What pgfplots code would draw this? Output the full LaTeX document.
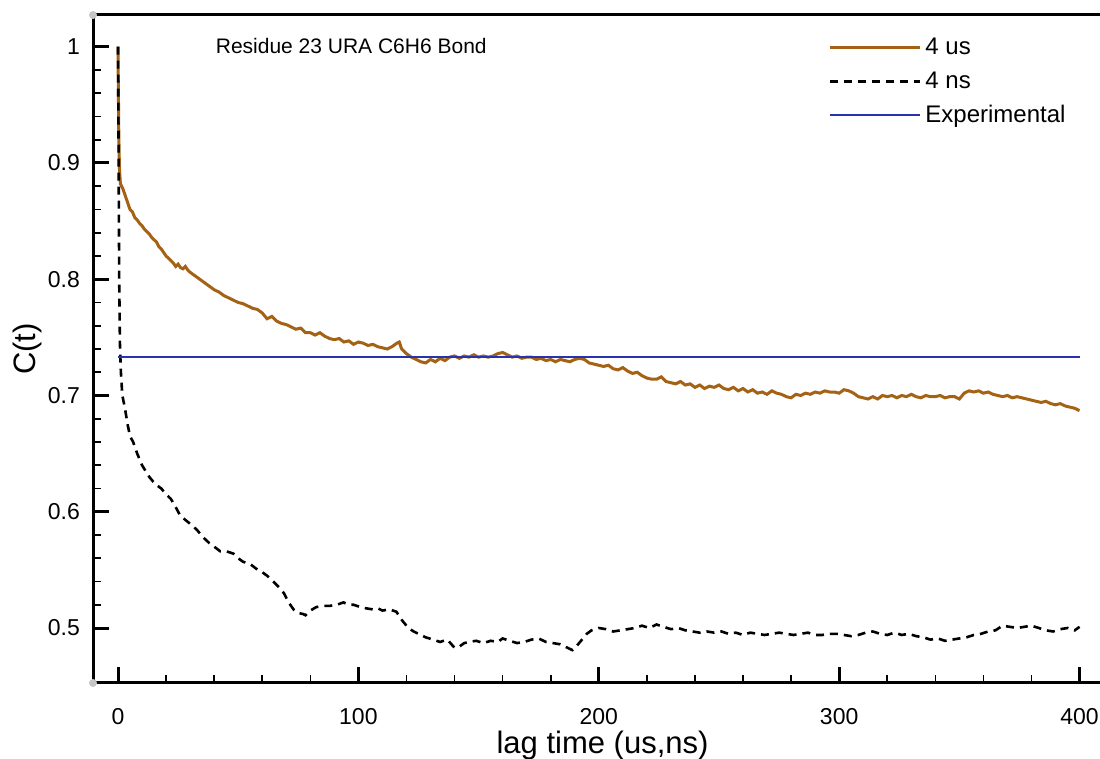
\documentclass[border=0pt]{standalone}
\usepackage{pgfplots}
\pgfplotsset{compat=1.18}
\usepackage{fontspec}
\setmainfont{Liberation Sans}
\definecolor{usbrown}{RGB}{163,98,20}
\definecolor{expblue}{RGB}{40,50,175}
\begin{document}
\begin{tikzpicture}
\path[use as bounding box] (0pt,0pt) rectangle (550pt,379.5pt);
\begin{axis}[
    at={(46.5pt,38pt)}, anchor=south west,
    scale only axis,
    width=503.5pt, height=334pt,
    xmin=-10.4, xmax=408.5,
    ymin=0.4527, ymax=1.0273,
    xtick={0,100,200,300,400},
    ytick={0.5,0.6,0.7,0.8,0.9,1},
    minor tick num=4,
    xtick pos=bottom, ytick pos=left,
    tick align=inside,
    major tick length=8pt, minor tick length=4pt,
    major tick style={line width=1.5pt, black},
    minor tick style={line width=0.8pt, black},
    axis line style={draw=none},
    clip mode=individual,
    /pgf/number format/assume math mode=true,
    yticklabel style={/pgf/number format/fixed, /pgf/number format/precision=1, font=\fontsize{11.5}{13}\selectfont, xshift=-3pt},
    xticklabel style={font=\fontsize{11.5}{13}\selectfont, yshift=-9pt},
    xlabel={lag time (us,ns)},
    ylabel={C(t)},
    xlabel style={font=\fontsize{15.5}{18}\selectfont, at={(axis description cs:0.506,-0.093)}, anchor=center},
    ylabel style={font=\fontsize{15.5}{18}\selectfont, yshift=-4pt},
    legend style={draw=none, fill=none, at={(0.724,0.978)}, anchor=north west,
        font=\fontsize{12}{14}\selectfont, row sep=3pt},
    legend cell align=left,
    legend image code/.code={\draw[#1] (0pt,0pt) -- (45pt,0pt);},
]
\addplot[usbrown, line width=1.5pt] coordinates {
(0,1.000) (0.3,0.93) (0.6,0.895) (1,0.882) (2,0.878) (3,0.872) (4,0.866) (5,0.860)
(6,0.858) (7,0.853) (8,0.851) (9,0.848) (10,0.846) (11,0.843) (12,0.841) (13,0.839)
(14,0.836) (15,0.834) (16,0.832) (17,0.828) (18,0.826) (19,0.823) (20,0.820) (21,0.818)
(22,0.816) (23,0.814) (24,0.811) (25,0.813) (26,0.810) (27,0.809) (28,0.811) (29,0.808)
(30,0.806) (32,0.803) (34,0.800) (36,0.797) (38,0.794) (40,0.791) (42,0.789) (44,0.786)
(46,0.784) (48,0.782) (50,0.780) (52,0.779) (54,0.777) (56,0.775) (58,0.774) (60,0.771)
(62,0.766) (64,0.768) (66,0.764) (68,0.762) (70,0.761) (72,0.759) (74,0.757) (76,0.758)
(78,0.754) (80,0.754) (82,0.752) (84,0.754) (86,0.751) (88,0.749) (90,0.748) (92,0.749)
(94,0.746) (96,0.747) (98,0.744) (100,0.746) (102,0.745) (104,0.743) (106,0.744) (108,0.742)
(110,0.741) (112,0.740) (114,0.742) (116,0.745) (117,0.746) (118,0.740) (120,0.736) (122,0.733)
(124,0.731) (126,0.729) (128,0.728) (130,0.731) (132,0.729) (134,0.732) (136,0.730) (138,0.733)
(140,0.734) (142,0.732) (144,0.734) (146,0.733) (148,0.735) (150,0.733) (152,0.734) (154,0.733)
(156,0.734) (158,0.736) (160,0.737) (162,0.735) (164,0.733) (166,0.734) (168,0.732) (170,0.733)
(172,0.733) (174,0.731) (176,0.732) (178,0.730) (180,0.731) (182,0.729) (184,0.731) (186,0.730)
(188,0.729) (190,0.731) (192,0.732) (194,0.731) (196,0.728) (198,0.727) (200,0.726) (202,0.725)
(204,0.726) (206,0.723) (208,0.722) (210,0.724) (212,0.721) (214,0.719) (216,0.720) (218,0.717)
(220,0.715) (222,0.714) (224,0.714) (226,0.716) (228,0.712) (230,0.711) (232,0.710) (234,0.712)
(236,0.709) (238,0.710) (240,0.707) (242,0.709) (244,0.706) (246,0.708) (248,0.707) (250,0.709)
(252,0.706) (254,0.705) (256,0.707) (258,0.704) (260,0.706) (262,0.703) (264,0.705) (266,0.702)
(268,0.703) (270,0.701) (272,0.704) (274,0.702) (276,0.701) (278,0.699) (280,0.698) (282,0.701)
(284,0.700) (286,0.702) (288,0.701) (290,0.703) (292,0.702) (294,0.704) (296,0.703) (298,0.703)
(300,0.702) (302,0.705) (304,0.704) (306,0.702) (308,0.699) (310,0.698) (312,0.697) (314,0.699)
(316,0.697) (318,0.700) (320,0.699) (322,0.700) (324,0.698) (326,0.700) (328,0.699) (330,0.701)
(332,0.699) (334,0.698) (336,0.700) (338,0.699) (340,0.699) (342,0.700) (344,0.698) (346,0.699)
(348,0.699) (350,0.697) (352,0.702) (354,0.704) (356,0.703) (358,0.704) (360,0.702) (362,0.703)
(364,0.701) (366,0.700) (368,0.699) (370,0.700) (372,0.698) (374,0.699) (376,0.698) (378,0.697)
(380,0.696) (382,0.695) (384,0.694) (386,0.695) (388,0.693) (390,0.692) (392,0.693) (394,0.691)
(396,0.690) (398,0.689) (400,0.687)
};
\addlegendentry{4 us}
\addplot[black, line width=1.3pt, dash pattern=on 4pt off 3pt] coordinates {
(0,1.000) (0.2,0.93) (0.5,0.80) (0.8,0.745) (1.2,0.72) (1.8,0.70) (2.8,0.690) (4,0.675)
(5,0.665) (6.3,0.660) (8,0.650) (10,0.640) (11.8,0.634) (13,0.630) (14.6,0.626) (16,0.623)
(18,0.620) (20,0.615) (22,0.611) (24,0.604) (25.8,0.597) (28,0.593) (31,0.588) (33,0.584)
(35.4,0.578) (38,0.573) (40,0.570) (42.5,0.566) (45,0.566) (48,0.564) (50,0.560) (52,0.557)
(55,0.555) (57.5,0.551) (60,0.548) (62,0.545) (64.6,0.540) (67,0.535) (69,0.530) (71,0.522)
(73,0.516) (75,0.513) (77,0.512) (78,0.511) (80,0.515) (82.5,0.518) (85,0.519) (88,0.519)
(91,0.520) (93.8,0.522) (96,0.520) (98,0.520) (100.8,0.518) (103,0.517) (106,0.516) (108,0.517)
(110,0.515) (113,0.516) (115.8,0.514) (118,0.507) (120.8,0.500) (123,0.497) (126,0.494) (128,0.492)
(131,0.490) (134,0.488) (137,0.490) (140,0.483) (142,0.484) (144,0.487) (146,0.488) (149,0.489)
(152,0.487) (155,0.489) (158,0.488) (160,0.491) (163,0.489) (166,0.487) (169,0.488) (172,0.490)
(175,0.491) (178,0.488) (181,0.487) (184,0.486) (187,0.483) (189,0.481) (191,0.485) (193,0.490)
(195,0.495) (197,0.498) (200,0.500) (203,0.499) (206,0.497) (209,0.498) (212,0.499) (215,0.500)
(218,0.502) (221,0.500) (224,0.503) (227,0.501) (230,0.499) (233,0.500) (236,0.498) (239,0.497)
(242,0.496) (245,0.497) (248,0.496) (251,0.497) (254,0.495) (257,0.496) (260,0.494) (263,0.496)
(266,0.495) (269,0.494) (272,0.495) (275,0.496) (278,0.495) (281,0.494) (284,0.495) (287,0.496)
(290,0.494) (293,0.494) (296,0.495) (299,0.495) (302,0.494) (305,0.493) (308,0.494) (311,0.496)
(314,0.497) (317,0.495) (320,0.494) (323,0.496) (326,0.494) (329,0.495) (332,0.493) (335,0.492)
(338,0.490) (341,0.491) (344,0.489) (347,0.490) (350,0.491) (353,0.492) (356,0.494) (359,0.495)
(362,0.497) (365,0.498) (368,0.502) (371,0.501) (374,0.500) (377,0.501) (380,0.502) (383,0.500)
(386,0.498) (389,0.497) (392,0.499) (395,0.500) (398,0.498) (400,0.501)
};
\addlegendentry{4 ns}
\addplot[expblue, line width=1pt] coordinates {(0,0.7335) (400,0.7335)};
\addlegendentry{Experimental}
\draw[line width=1.5pt] (rel axis cs:0,1) -- (rel axis cs:0,0) -- (rel axis cs:1,0);
\draw[line width=1.5pt] (rel axis cs:0,1) -- (rel axis cs:1,1);
\fill[gray!45] (rel axis cs:0,1) circle (2pt);
\fill[gray!45] (rel axis cs:0,0) circle (2pt);
\node[anchor=west, font=\fontsize{10.5}{12}\selectfont] at (rel axis cs:0.115,0.954) {Residue 23 URA C6H6 Bond};
\end{axis}
\end{tikzpicture}
\end{document}
